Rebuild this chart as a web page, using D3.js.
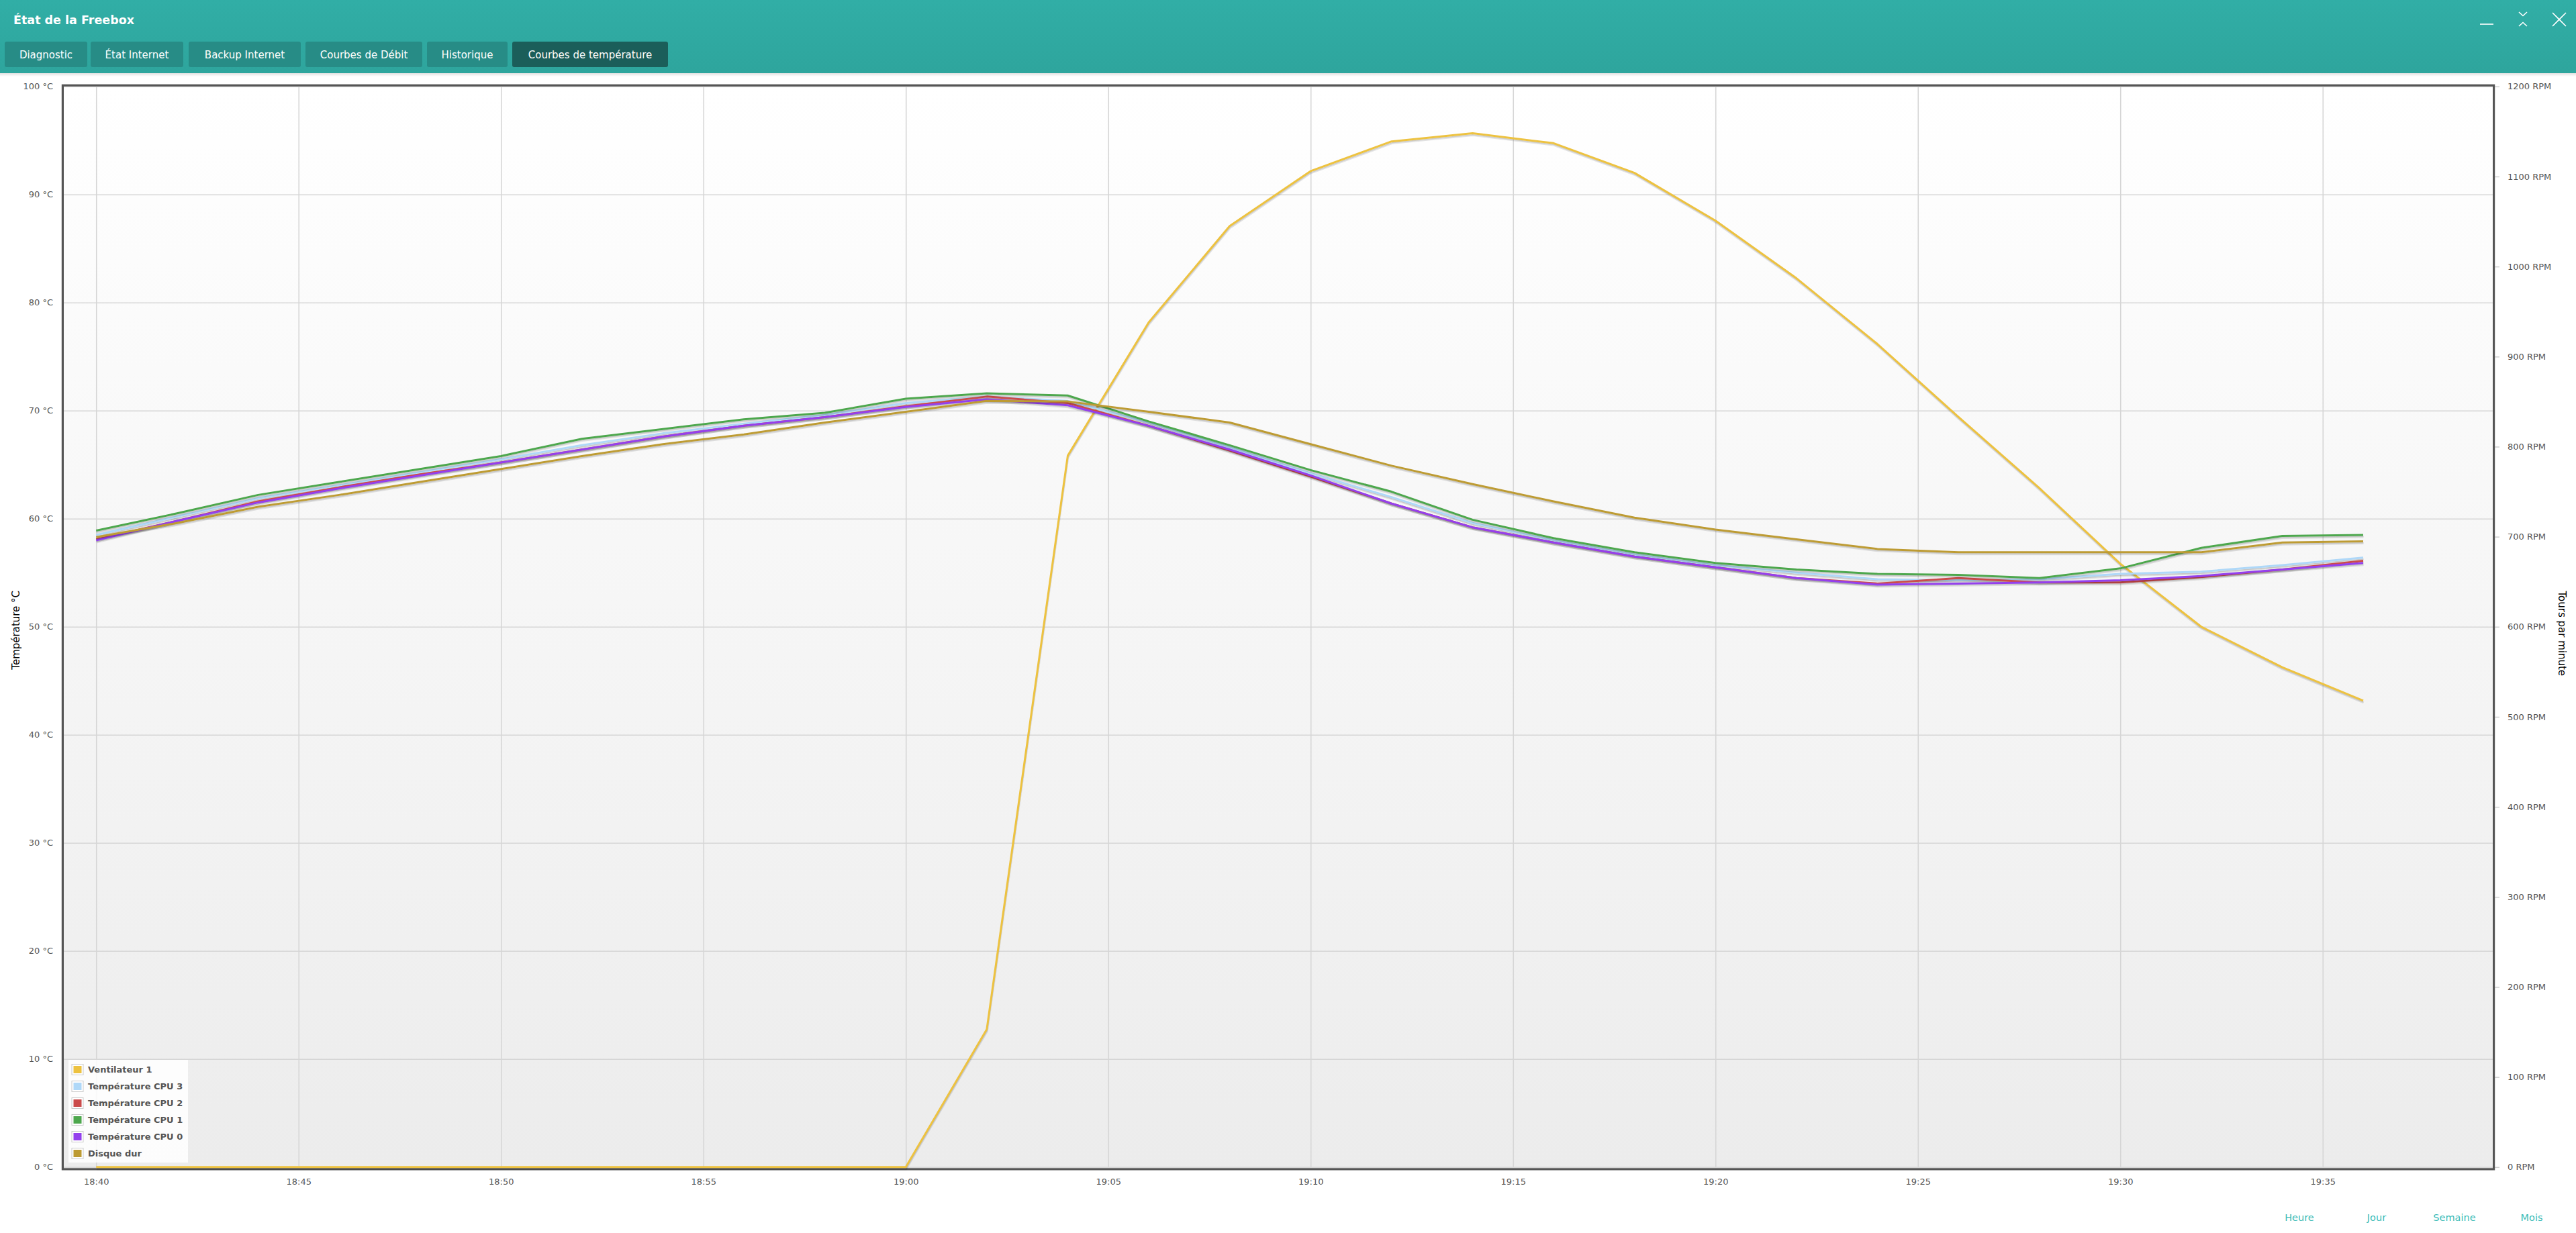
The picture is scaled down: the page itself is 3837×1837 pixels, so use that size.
<!DOCTYPE html>
<html>
<head>
<meta charset="utf-8">
<script src="https://cdn.jsdelivr.net/npm/d3@7"></script>
<style>
  html, body { margin: 0; padding: 0; background: #ffffff; }
  svg { display: block; }
  text { font-family: "DejaVu Sans", "Noto Sans", sans-serif; }
</style>
</head>
<body>
<script>
// ---------------- DATA ----------------
const times = ["18:40","18:42","18:44","18:46","18:48","18:50","18:52","18:54","18:56","18:58",
               "19:00","19:02","19:04","19:06","19:08","19:10","19:12","19:14","19:16","19:18",
               "19:20","19:22","19:24","19:26","19:28","19:30","19:32","19:34","19:36"];

const fanRPM = [0,0,0,0,0,0,0,0,0,0,
                0,153,790,938,1045,1106,1139,1148,1137,1104,
                1051,987,914,833,754,670,600,555,518];

const cpu3 = [58.5,60.2,61.9,63.1,64.3,65.5,66.8,67.9,68.8,69.6,
              70.7,71.3,70.9,68.9,66.6,64.2,62.0,59.6,58.0,56.7,
              55.7,55.0,54.4,54.3,54.4,54.9,55.1,55.7,56.4];

const cpu2 = [58.1,59.8,61.6,62.9,64.1,65.2,66.4,67.6,68.6,69.4,
              70.4,71.3,70.7,68.6,66.3,63.9,61.4,59.2,57.8,56.5,
              55.5,54.5,54.0,54.5,54.1,54.1,54.6,55.3,56.1];

const cpu1 = [58.9,60.5,62.2,63.4,64.6,65.8,67.4,68.3,69.2,69.8,
              71.1,71.6,71.4,69.0,66.8,64.5,62.5,59.9,58.2,56.9,
              55.9,55.3,54.9,54.8,54.5,55.4,57.3,58.4,58.5];

const cpu0 = [58.0,59.8,61.5,62.8,64.0,65.2,66.4,67.6,68.6,69.4,
              70.35,71.05,70.5,68.6,66.4,64.0,61.4,59.2,57.8,56.5,
              55.5,54.5,53.9,54.0,54.1,54.3,54.7,55.3,55.9];

const disk = [58.3,59.6,61.1,62.2,63.4,64.6,65.8,66.9,67.8,68.9,
              69.9,70.9,70.85,69.9,68.9,66.9,64.9,63.2,61.6,60.1,
              59.0,58.1,57.2,56.9,56.9,56.9,56.9,57.8,57.9];

const seriesNames = ["Ventilateur 1","Température CPU 3","Température CPU 2","Température CPU 1","Température CPU 0","Disque dur"];
const seriesColors = ["#edc240","#afd8f8","#cb4b4b","#4da74d","#9440ed","#bd9b33"];

const tempTicks = [0,10,20,30,40,50,60,70,80,90,100];
const rpmTicks = [0,100,200,300,400,500,600,700,800,900,1000,1100,1200];
const timeTicks = ["18:40","18:45","18:50","18:55","19:00","19:05","19:10","19:15","19:20","19:25","19:30","19:35"];
const xDomain = ["18:39:12","19:39:12"];

const title = "État de la Freebox";
const tabs = ["Diagnostic","État Internet","Backup Internet","Courbes de Débit","Historique","Courbes de température"];
const links = ["Heure","Jour","Semaine","Mois"];
const leftAxisTitle = "Température °C";
const rightAxisTitle = "Tours par minute";

// ---------------- LAYOUT ----------------
const W = 3837, H = 1837;
const P = { left: 95, right: 3713, top: 128.8, bottom: 1738.8 };

const svg = d3.select("body").append("svg").attr("width", W).attr("height", H);
const defs = svg.append("defs");

// Header
const hdrGrad = defs.append("linearGradient").attr("id","hdr").attr("x1",0).attr("y1",0).attr("x2",0).attr("y2",1);
hdrGrad.append("stop").attr("offset","0%").attr("stop-color","#31aea6");
hdrGrad.append("stop").attr("offset","100%").attr("stop-color","#2ea59d");
svg.append("rect").attr("x",0).attr("y",0).attr("width",W).attr("height",109).attr("fill","url(#hdr)");
const shGrad = defs.append("linearGradient").attr("id","hsh").attr("x1",0).attr("y1",0).attr("x2",0).attr("y2",1);
shGrad.append("stop").attr("offset","0%").attr("stop-color","#000").attr("stop-opacity",0.12);
shGrad.append("stop").attr("offset","100%").attr("stop-color","#000").attr("stop-opacity",0);
svg.append("rect").attr("x",0).attr("y",109).attr("width",W).attr("height",5).attr("fill","url(#hsh)");

svg.append("text").attr("x",20).attr("y",30).attr("dy","0.35em")
  .attr("fill","#ffffff").attr("font-size",17.5).attr("font-weight","bold").text(title);

const tabX = [[7,130],[135,273],[281,448],[455,629],[636,756],[763,995]];
const tabG = svg.append("g");
tabs.forEach((t,i) => {
  const active = i === tabs.length - 1;
  tabG.append("rect").attr("x",tabX[i][0]).attr("y",62).attr("width",tabX[i][1]-tabX[i][0]).attr("height",38)
    .attr("rx",3).attr("fill", active ? "#1b5e5a" : "#278c86");
  tabG.append("text").attr("x",(tabX[i][0]+tabX[i][1])/2).attr("y",82).attr("dy","0.35em")
    .attr("text-anchor","middle").attr("fill","#ffffff").attr("font-size",15).text(t);
});

// window controls
const wc = svg.append("g").attr("stroke","#ffffff").attr("stroke-width",1.6).attr("fill","none");
wc.append("line").attr("x1",3694).attr("y1",36).attr("x2",3714).attr("y2",36);
wc.append("polyline").attr("points","3752,18 3758,23.5 3764,18");
wc.append("polyline").attr("points","3752,39 3758,33.5 3764,39");
wc.append("line").attr("x1",3802).attr("y1",19).attr("x2",3822).attr("y2",39);
wc.append("line").attr("x1",3822).attr("y1",19).attr("x2",3802).attr("y2",39);

// ---------------- SCALES ----------------
const parseHM = d3.timeParse("%H:%M");
const parseHMS = d3.timeParse("%H:%M:%S");
const x = d3.scaleTime().domain(xDomain.map(parseHMS)).range([P.left, P.right]);
const yT = d3.scaleLinear().domain([0,100]).range([P.bottom, P.top]);
const yR = d3.scaleLinear().domain([0,1200]).range([P.bottom, P.top]);

// plot background
const bg = defs.append("linearGradient").attr("id","plotbg").attr("x1",0).attr("y1",0).attr("x2",0).attr("y2",1);
bg.append("stop").attr("offset","0%").attr("stop-color","#ffffff");
bg.append("stop").attr("offset","100%").attr("stop-color","#ececec");
svg.append("rect").attr("x",P.left).attr("y",P.top).attr("width",P.right-P.left).attr("height",P.bottom-P.top+1.5)
  .attr("fill","url(#plotbg)");

defs.append("clipPath").attr("id","clip").append("rect")
  .attr("x",P.left).attr("y",P.top).attr("width",P.right-P.left).attr("height",P.bottom-P.top+8);

// grid lines via axes
const gridColor = "#d6d6d6";
const gy = svg.append("g").attr("transform",`translate(${P.left},0)`)
  .call(d3.axisLeft(yT).tickValues(tempTicks).tickSize(-(P.right-P.left)).tickFormat(""));
gy.select(".domain").remove();
gy.selectAll("line").attr("stroke",gridColor).attr("stroke-width",1.6);

const gx = svg.append("g").attr("transform",`translate(0,${P.bottom})`)
  .call(d3.axisBottom(x).tickValues(timeTicks.map(parseHM)).tickSize(-(P.bottom-P.top)).tickFormat(""));
gx.select(".domain").remove();
gx.selectAll("line").attr("stroke",gridColor).attr("stroke-width",1.6);

// axis labels
const axL = svg.append("g").attr("transform",`translate(79,0)`)
  .call(d3.axisLeft(yT).tickValues(tempTicks).tickSize(0).tickPadding(0).tickFormat(d => d + " °C"));
axL.select(".domain").remove();
axL.selectAll("text").attr("font-size",13).attr("fill","#545454").attr("font-family","DejaVu Sans");

const axR = svg.append("g").attr("transform",`translate(${P.right + 3},0)`)
  .call(d3.axisRight(yR).tickValues(rpmTicks).tickSize(7).tickPadding(12).tickFormat(d => d + " RPM"));
axR.select(".domain").remove();
axR.selectAll("line").attr("stroke","#cfcfcf").attr("stroke-width",1.5);
axR.selectAll("text").attr("font-size",13).attr("fill","#545454").attr("font-family","DejaVu Sans");

const axB = svg.append("g").attr("transform",`translate(0,${P.bottom})`)
  .call(d3.axisBottom(x).tickValues(timeTicks.map(parseHM)).tickSize(0).tickPadding(17).tickFormat(d3.timeFormat("%H:%M")));
axB.select(".domain").remove();
axB.selectAll("text").attr("font-size",13).attr("fill","#545454").attr("font-family","DejaVu Sans");

// axis titles
svg.append("text").attr("transform",`translate(24,${(P.top+P.bottom)/2+5}) rotate(-90)`)
  .attr("text-anchor","middle").attr("dy","0.35em").attr("font-size",15).attr("fill","#000").text(leftAxisTitle);
svg.append("text").attr("transform",`translate(3816,${(P.top+P.bottom)/2+10}) rotate(90)`)
  .attr("text-anchor","middle").attr("dy","0.35em").attr("font-size",15).attr("fill","#000").text(rightAxisTitle);

// ---------------- SERIES ----------------
const tDates = times.map(parseHM);
const series = [
  { vals: fanRPM, y: yR },
  { vals: cpu3, y: yT },
  { vals: cpu2, y: yT },
  { vals: cpu1, y: yT },
  { vals: cpu0, y: yT },
  { vals: disk, y: yT }
];
const lw = 3, sw = 3, ang = Math.PI/18;
const shadows = svg.append("g").attr("clip-path","url(#clip)");
const lines = svg.append("g").attr("clip-path","url(#clip)");
series.forEach((s,i) => {
  const data = s.vals.map((v,j) => [tDates[j], v]);
  const gen = d3.line().x(d => x(d[0])).y(d => s.y(d[1]));
  const o1 = lw/2 + sw/2, o2 = lw/2 + sw/4;
  const g = lines.append("g");
  g.append("path").attr("d", gen(data)).attr("fill","none")
    .attr("stroke","rgba(0,0,0,0.1)").attr("stroke-width",sw).attr("stroke-linejoin","round")
    .attr("transform",`translate(${Math.sin(ang)*o1},${Math.cos(ang)*o1})`);
  g.append("path").attr("d", gen(data)).attr("fill","none")
    .attr("stroke","rgba(0,0,0,0.1)").attr("stroke-width",sw/2).attr("stroke-linejoin","round")
    .attr("transform",`translate(${Math.sin(ang)*o2},${Math.cos(ang)*o2})`);
  g.append("path").attr("d", gen(data)).attr("fill","none")
    .attr("stroke",seriesColors[i]).attr("stroke-width",lw).attr("stroke-linejoin","round");
});

// border (drawn just outside the plot area)
const bw = 3.2;
svg.append("rect").attr("x",P.left-bw/2).attr("y",P.top-bw/2)
  .attr("width",P.right-P.left+bw).attr("height",P.bottom-P.top+bw+1.5)
  .attr("fill","none").attr("stroke","#555555").attr("stroke-width",bw);
// keep the zero-level line visible above the bottom border
lines.raise();

// ---------------- LEGEND ----------------
const lg = svg.append("g");
lg.append("rect").attr("x",102).attr("y",1579).attr("width",178).attr("height",153)
  .attr("fill","#ffffff").attr("fill-opacity",0.85);
seriesNames.forEach((n,i) => {
  const cy = 1593.5 + i*25;
  lg.append("rect").attr("x",107).attr("y",cy-8).attr("width",17).attr("height",16)
    .attr("fill","#ffffff").attr("stroke","#cccccc").attr("stroke-width",1);
  lg.append("rect").attr("x",109.5).attr("y",cy-5.5).attr("width",12).attr("height",11).attr("fill",seriesColors[i]);
  lg.append("text").attr("x",131).attr("y",cy).attr("dy","0.35em").attr("font-size",13)
    .attr("font-weight","bold").attr("fill","#545454").text(n);
});

// ---------------- BOTTOM LINKS ----------------
const linkX = [3425,3540,3656,3771];
links.forEach((l,i) => {
  svg.append("text").attr("x",linkX[i]).attr("y",1814).attr("dy","0.35em").attr("text-anchor","middle")
    .attr("font-size",14.5).attr("fill","#3cbcb8").text(l);
});
</script>
</body>
</html>
